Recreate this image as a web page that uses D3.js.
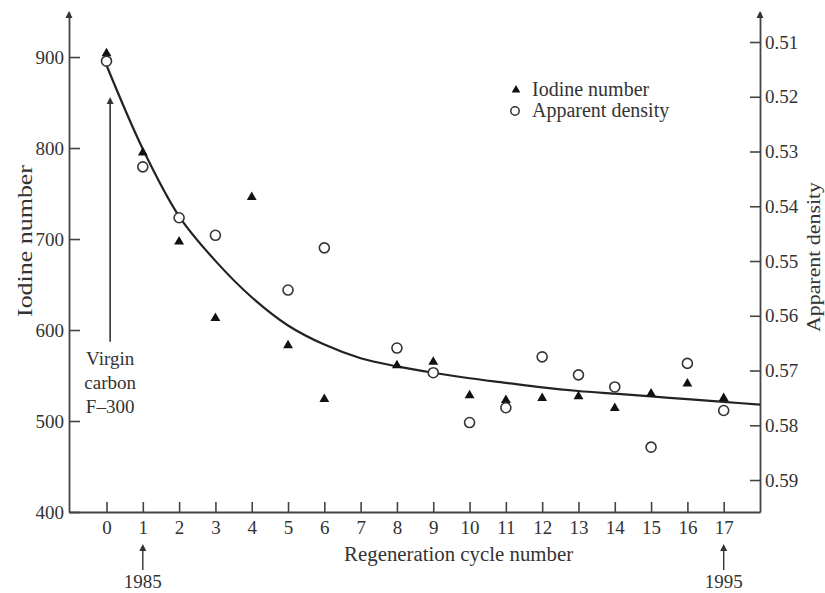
<!DOCTYPE html>
<html>
<head>
<meta charset="utf-8">
<script src="https://cdn.jsdelivr.net/npm/d3@7"></script>
<style>
  body { margin: 0; background: #fff; }
  text { font-family: "Liberation Serif", "Times New Roman", serif; fill: #333; }
</style>
</head>
<body>
<div id="chart"></div>
<script>
const WIDTH = 825, HEIGHT = 593
const LEFT = 69, RIGHT = 760, TOP = 12, BOTTOM = 512
const INK = "#333"

// regeneration cycles and readings
const cycles = [0, 1, 2, 3, 4, 5, 6, 8, 9, 10, 11, 12, 13, 14, 15, 16, 17]
const iodine = [904, 795, 697, 613, 746, 583, 524, 561, 565, 528, 523, 525, 527, 514, 530, 541, 525]
const density = [0.5135, 0.5328, 0.5421, 0.5453, null, 0.5553, 0.5476, 0.5659, 0.5704, 0.5795, 0.5768, 0.5675, 0.5708, 0.5730, 0.5840, 0.5687, 0.5773]
// fitted trend line (in iodine units)
const fitX = [0, 1, 2, 3, 4, 5, 6, 7, 8, 9, 10, 11, 12, 13, 14, 15, 16, 17, 18]
const fitY = [891, 799, 725, 676, 636, 605, 584, 569, 560, 553, 547, 542, 537, 533, 530, 527, 524, 521, 518]
const xTicks = d3.range(0, 18)
const iodineTicks = [400, 500, 600, 700, 800, 900]
const densityTicks = [0.51, 0.52, 0.53, 0.54, 0.55, 0.56, 0.57, 0.58, 0.59]

const svg = d3.select("#chart").append("svg")
    .attr("width", WIDTH)
    .attr("height", HEIGHT)

const x = d3.scaleLinear().domain([-1.033, 18]).range([LEFT, RIGHT])
const yI = d3.scaleLinear().domain([400, 949.5]).range([BOTTOM, TOP])
const yD = d3.scaleLinear().domain([0.59584, 0.50452]).range([BOTTOM, TOP])

function styleAxis(g) {
    g.select(".domain").attr("stroke", "#444").attr("stroke-width", 1.8)
    g.selectAll(".tick line").attr("stroke", "#444").attr("stroke-width", 1.6)
    g.selectAll(".tick text").style("font-size", "19px").attr("fill", INK)
        .style("font-family", '"Liberation Serif", serif')
}

svg.append("g")
    .attr("transform", `translate(0,${BOTTOM})`)
    .call(d3.axisBottom(x).tickValues(xTicks).tickSizeInner(-10).tickSizeOuter(0).tickPadding(9))
    .call(styleAxis)

svg.append("g")
    .attr("transform", `translate(${LEFT},0)`)
    .call(d3.axisLeft(yI).tickValues(iodineTicks).tickSizeInner(-11).tickSizeOuter(0).tickPadding(5))
    .call(styleAxis)

svg.append("g")
    .attr("transform", `translate(${RIGHT},0)`)
    .call(d3.axisRight(yD).tickValues(densityTicks).tickFormat(d3.format(".2f")).tickSizeInner(-10).tickSizeOuter(0).tickPadding(5))
    .call(styleAxis)

// arrowheads on top of the vertical axes
const head = (cx, cy, dir) => `M${cx},${cy} l-3.5,${7 * dir} l7,0 Z`
svg.append("path").attr("d", head(LEFT, TOP - 1, 1)).attr("fill", "#333")
svg.append("path").attr("d", head(RIGHT, TOP - 1, 1)).attr("fill", "#333")

// trend line
const line = d3.line().x(d => x(d[0])).y(d => yI(d[1])).curve(d3.curveCatmullRom)
svg.append("path")
    .datum(fitX.map((v, i) => [v, fitY[i]]))
    .attr("d", line)
    .attr("fill", "none")
    .attr("stroke", "#222")
    .attr("stroke-width", 2.2)

// iodine number triangles
const tri = d3.symbol(d3.symbolTriangle, 42)
svg.selectAll("path.iod").data(cycles)
    .enter().append("path")
    .attr("class", "iod")
    .attr("d", tri)
    .attr("transform", (d, i) => `translate(${x(d)},${yI(iodine[i])})`)
    .attr("fill", "#111")

// apparent density circles
svg.selectAll("circle.dens").data(cycles.map((c, i) => [c, density[i]]).filter(d => d[1] != null))
    .enter().append("circle")
    .attr("class", "dens")
    .attr("cx", d => x(d[0]))
    .attr("cy", d => yD(d[1]))
    .attr("r", 5)
    .attr("fill", "#fff")
    .attr("stroke", "#333")
    .attr("stroke-width", 1.6)

// axis titles
svg.append("text")
    .attr("transform", `translate(32,${241}) rotate(-90)`)
    .attr("text-anchor", "middle")
    .attr("textLength", 152)
    .attr("lengthAdjust", "spacingAndGlyphs")
    .style("font-size", "21px")
    .text("Iodine number")

svg.append("text")
    .attr("transform", `translate(820,${257}) rotate(-90)`)
    .attr("text-anchor", "middle")
    .attr("textLength", 150)
    .attr("lengthAdjust", "spacingAndGlyphs")
    .style("font-size", "19px")
    .text("Apparent density")

svg.append("text")
    .attr("x", (x(5) + x(12)) / 2 - 71)
    .attr("y", 561)
    .attr("textLength", 229)
    .attr("lengthAdjust", "spacingAndGlyphs")
    .style("font-size", "20px")
    .text("Regeneration cycle number")

// legend
const legend = svg.append("g").attr("transform", "translate(516,0)")
legend.append("path").attr("d", d3.symbol(d3.symbolTriangle, 32)).attr("transform", "translate(0,90)").attr("fill", "#111")
legend.append("circle").attr("cx", -1).attr("cy", 111).attr("r", 4.2).attr("fill", "#fff").attr("stroke", "#333").attr("stroke-width", 1.5)
legend.append("text").attr("x", 16).attr("y", 96).style("font-size", "20px").text("Iodine number")
legend.append("text").attr("x", 16).attr("y", 117).style("font-size", "20px").text("Apparent density")

// virgin carbon annotation
const ax = x(0.1)
svg.append("line").attr("x1", ax).attr("x2", ax).attr("y1", yI(587)).attr("y2", yI(852))
    .attr("stroke", "#333").attr("stroke-width", 1.6)
svg.append("path").attr("d", head(ax, yI(856), 1)).attr("fill", "#333")
const virgin = ["Virgin", "carbon", "F\u2013300"]
svg.selectAll("text.virgin").data(virgin).enter().append("text")
    .attr("class", "virgin")
    .attr("x", ax)
    .attr("y", (d, i) => 365 + i * 24)
    .attr("text-anchor", "middle")
    .style("font-size", "19px")
    .text(d => d)

// year markers under the axis
const years = [[1, "1985"], [17, "1995"]]
years.forEach(([c, label]) => {
    svg.append("line").attr("x1", x(c)).attr("x2", x(c)).attr("y1", 549).attr("y2", 570)
        .attr("stroke", "#333").attr("stroke-width", 1.4)
    svg.append("path").attr("d", head(x(c), 544, 1)).attr("fill", "#333")
    svg.append("text").attr("x", x(c)).attr("y", 588).attr("text-anchor", "middle")
        .style("font-size", "19px").text(label)
})
</script>
</body>
</html>
